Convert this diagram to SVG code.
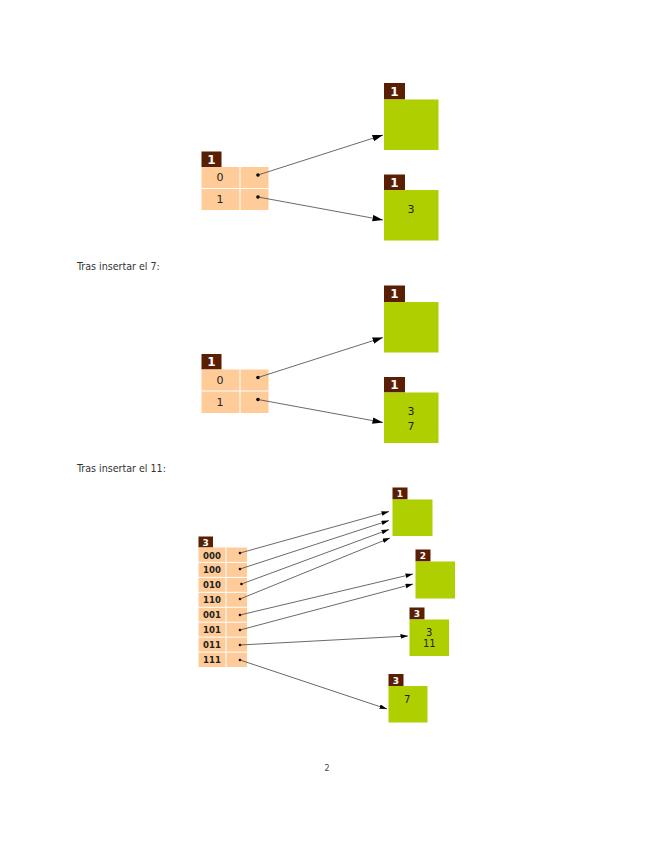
<svg xmlns="http://www.w3.org/2000/svg" width="655" height="848" viewBox="0 0 655 848">
<style>
  .lbl{fill:#5a1e02}
  .lbltxt{fill:#fff;font-family:"DejaVu Sans",sans-serif;font-weight:bold;text-anchor:middle}
  .tbl{fill:#ffcc99}
  .sep{stroke:#fff;stroke-width:1;fill:none}
  .bkt{fill:#b0cf00}
  .txt{font-family:"DejaVu Sans",sans-serif;fill:#222;text-anchor:middle}
  .cap{font-family:"DejaVu Sans Condensed","DejaVu Sans",sans-serif;font-stretch:condensed;fill:#333;font-size:10.6px}
  .code{font-family:"DejaVu Sans Condensed","DejaVu Sans",sans-serif;font-stretch:condensed;font-weight:bold;fill:#222;font-size:9.5px;text-anchor:middle}
  .dot{fill:#000}
  .ln{stroke:#444;stroke-width:0.8;fill:none}
  .big{marker-end:url(#ah)}
  .sm{marker-end:url(#ahs)}
</style>
<defs>
  <marker id="ah" markerUnits="userSpaceOnUse" markerWidth="11" markerHeight="7" refX="10.5" refY="3.25" orient="auto">
    <path d="M0,0 L10.5,3.25 L0,6.5 z" fill="#000"/>
  </marker>
  <marker id="ahs" markerUnits="userSpaceOnUse" markerWidth="8" markerHeight="5" refX="7.5" refY="2.3" orient="auto">
    <path d="M0,0 L7.5,2.3 L0,4.6 z" fill="#000"/>
  </marker>
</defs>
<rect width="655" height="848" fill="#fff"/>

<!-- Diagram 1 -->
<g id="d1-table">
  <rect class="lbl" x="201.5" y="151.5" width="20" height="15.5"/>
  <text class="lbltxt" x="211.5" y="163.5" font-size="12">1</text>
  <rect class="tbl" x="201.5" y="167" width="67" height="43"/>
  <path class="sep" d="M201.5,188.5 H268.5 M240,167 V210"/>
  <text class="txt" x="220" y="181" font-size="11">0</text>
  <text class="txt" x="220" y="202.5" font-size="11">1</text>
  <circle class="dot" cx="258" cy="175" r="1.8"/>
  <circle class="dot" cx="258" cy="197" r="1.8"/>
</g>
<g id="d1-bucket-a">
  <rect class="lbl" x="384" y="83" width="21" height="16.5"/>
  <text class="lbltxt" x="394.5" y="95.5" font-size="12">1</text>
  <rect class="bkt" x="384" y="99.5" width="54.5" height="50.5"/>
</g>
<g id="d1-bucket-b">
  <rect class="lbl" x="384" y="174.5" width="21" height="15.5"/>
  <text class="lbltxt" x="394.5" y="186.5" font-size="12">1</text>
  <rect class="bkt" x="384" y="190" width="54.5" height="50.5"/>
  <text class="txt" x="411" y="212.5" font-size="11">3</text>
</g>
<g id="d1-connectors">
  <line class="ln big" x1="258" y1="175" x2="383" y2="135"/>
  <line class="ln big" x1="258" y1="197" x2="383" y2="220"/>
</g>

<text class="cap" x="77" y="269.5">Tras insertar el 7:</text>

<!-- Diagram 2 -->
<g id="d2-table">
  <rect class="lbl" x="201.5" y="354" width="20" height="15.5"/>
  <text class="lbltxt" x="211.5" y="366" font-size="12">1</text>
  <rect class="tbl" x="201.5" y="369.5" width="67" height="43.5"/>
  <path class="sep" d="M201.5,391 H268.5 M240,369.5 V413"/>
  <text class="txt" x="220" y="384" font-size="11">0</text>
  <text class="txt" x="220" y="405.5" font-size="11">1</text>
  <circle class="dot" cx="258" cy="377.5" r="1.8"/>
  <circle class="dot" cx="258" cy="399.5" r="1.8"/>
</g>
<g id="d2-bucket-a">
  <rect class="lbl" x="384" y="285.5" width="21" height="16.5"/>
  <text class="lbltxt" x="394.5" y="298" font-size="12">1</text>
  <rect class="bkt" x="384" y="302" width="54.5" height="50.5"/>
</g>
<g id="d2-bucket-b">
  <rect class="lbl" x="384" y="377" width="21" height="15.5"/>
  <text class="lbltxt" x="394.5" y="389" font-size="12">1</text>
  <rect class="bkt" x="384" y="392.5" width="54.5" height="50.5"/>
  <text class="txt" x="411" y="414.5" font-size="11">3</text>
  <text class="txt" x="411" y="430" font-size="11">7</text>
</g>
<g id="d2-connectors">
  <line class="ln big" x1="258" y1="377.5" x2="383" y2="337.5"/>
  <line class="ln big" x1="258" y1="399.5" x2="383" y2="422.5"/>
</g>

<text class="cap" x="77" y="472">Tras insertar el 11:</text>

<!-- Diagram 3 -->
<g id="d3-table">
  <rect class="lbl" x="198.5" y="536.5" width="14.5" height="11"/>
  <text class="lbltxt" x="205.7" y="545.5" font-size="9">3</text>
  <rect class="tbl" x="198.5" y="547.5" width="48.5" height="119.5"/>
  <path class="sep" d="M198.5,562.4 H247 M198.5,577.4 H247 M198.5,592.3 H247 M198.5,607.3 H247 M198.5,622.2 H247 M198.5,637.1 H247 M198.5,652.1 H247 M226,547.5 V667"/>
  <text class="code" x="212" y="558.5">000</text>
  <text class="code" x="212" y="573.4">100</text>
  <text class="code" x="212" y="588.4">010</text>
  <text class="code" x="212" y="603.3">110</text>
  <text class="code" x="212" y="618.2">001</text>
  <text class="code" x="212" y="633.2">101</text>
  <text class="code" x="212" y="648.1">011</text>
  <text class="code" x="212" y="663">111</text>
  <circle class="dot" cx="240" cy="553" r="1.3"/>
  <circle class="dot" cx="240" cy="569" r="1.3"/>
  <circle class="dot" cx="241.5" cy="584" r="1.3"/>
  <circle class="dot" cx="240" cy="599" r="1.3"/>
  <circle class="dot" cx="240" cy="615" r="1.3"/>
  <circle class="dot" cx="240" cy="630" r="1.3"/>
  <circle class="dot" cx="240" cy="645" r="1.3"/>
  <circle class="dot" cx="240" cy="660" r="1.3"/>
</g>
<g id="d3-bucket-a">
  <rect class="lbl" x="392.5" y="487.5" width="15" height="12"/>
  <text class="lbltxt" x="400" y="497" font-size="9">1</text>
  <rect class="bkt" x="392.5" y="499.5" width="40" height="36.5"/>
</g>
<g id="d3-bucket-b">
  <rect class="lbl" x="415.5" y="549.5" width="15" height="12"/>
  <text class="lbltxt" x="423" y="559" font-size="9">2</text>
  <rect class="bkt" x="415.5" y="561.5" width="39.5" height="37"/>
</g>
<g id="d3-bucket-c">
  <rect class="lbl" x="409.5" y="607.5" width="15" height="12"/>
  <text class="lbltxt" x="417" y="617" font-size="9">3</text>
  <rect class="bkt" x="409.5" y="619.5" width="39.5" height="36.5"/>
  <text class="txt" x="429.3" y="636" font-size="10">3</text>
  <text class="txt" x="429.3" y="647" font-size="10">11</text>
</g>
<g id="d3-bucket-d">
  <rect class="lbl" x="388.5" y="674" width="15" height="12"/>
  <text class="lbltxt" x="396" y="683.5" font-size="9">3</text>
  <rect class="bkt" x="388.5" y="686" width="39" height="36.5"/>
  <text class="txt" x="407.3" y="702.6" font-size="10">7</text>
</g>
<g id="d3-connectors">
  <line class="ln sm" x1="240" y1="553" x2="389" y2="511.5"/>
  <line class="ln sm" x1="240" y1="569" x2="389" y2="520.5"/>
  <line class="ln sm" x1="241.5" y1="584" x2="389" y2="529.5"/>
  <line class="ln sm" x1="240" y1="599" x2="390" y2="538"/>
  <line class="ln sm" x1="240" y1="615" x2="413" y2="574"/>
  <line class="ln sm" x1="240" y1="630" x2="413" y2="584"/>
  <line class="ln sm" x1="240" y1="645" x2="408" y2="636"/>
  <line class="ln sm" x1="240" y1="660" x2="387" y2="709"/>
</g>

<text x="327" y="771" font-family="DejaVu Sans, sans-serif" font-size="8" fill="#444" text-anchor="middle">2</text>
</svg>
